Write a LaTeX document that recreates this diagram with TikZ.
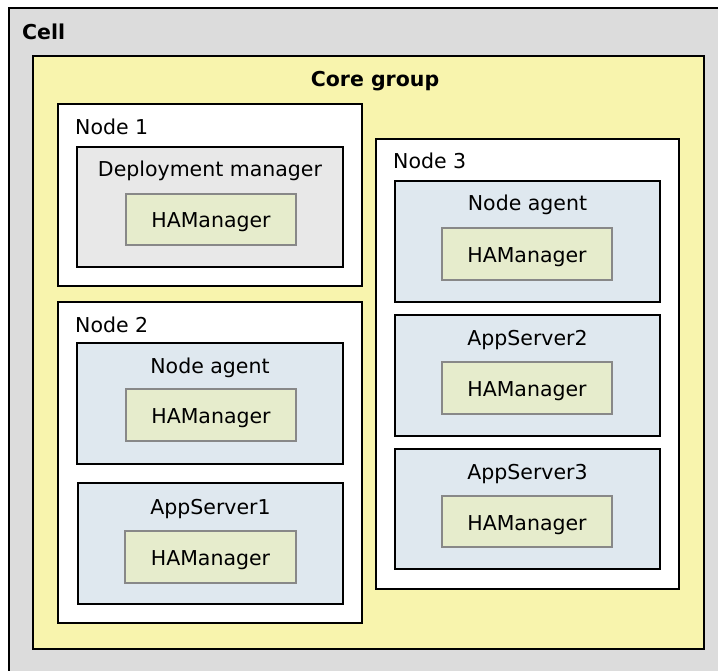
\documentclass[tikz,border=0pt]{standalone}
\usepackage{fontspec}
\setmainfont{DejaVu Sans}
\definecolor{cellgray}{HTML}{DCDCDC}
\definecolor{coreyellow}{HTML}{F8F4AD}
\definecolor{dmgray}{HTML}{E8E8E8}
\definecolor{agentblue}{HTML}{DFE8EF}
\definecolor{hagreen}{HTML}{E6ECCC}
\definecolor{haborder}{HTML}{888888}
\tikzset{
  box/.style={draw=black, line width=2pt, inner sep=0pt, outer sep=0pt},
  cellbox/.style={box, fill=cellgray},
  corebox/.style={box, fill=coreyellow},
  nodebox/.style={box, fill=white},
  dmbox/.style={box, line width=1.8pt, fill=dmgray},
  agentbox/.style={box, line width=1.8pt, fill=agentblue},
  habox/.style={draw=haborder, line width=1.8pt, fill=hagreen, inner sep=0pt, outer sep=0pt},
  lbl/.style={font=\fontsize{20.5pt}{24pt}\selectfont, inner sep=0pt, anchor=base},
  lblw/.style={lbl, anchor=base west},
  boldlbl/.style={lbl, font=\fontsize{20.5pt}{24pt}\selectfont\bfseries},
}
\begin{document}
\begin{tikzpicture}[x=1pt,y=-1pt]
\useasboundingbox (0,0) rectangle (718,671);
\clip (0,0) rectangle (718,671);
% Cell
\node[cellbox, minimum width=760pt, minimum height=720pt] (cell) at (389,368) {};
\node[boldlbl, anchor=base west] (celllbl) at (22,40) {Cell};
% Core group
\node[corebox, minimum width=671pt, minimum height=593pt] (core) at (368.5,352.5) {};
\node[boldlbl] (corelbl) at (375,87) {Core group};
% Node 1
\node[nodebox, minimum width=304pt, minimum height=182pt] (n1) at (210,195) {};
\node[lblw] (n1lbl) at (75,135) {Node 1};
\node[dmbox, minimum width=266pt, minimum height=120pt] (dm) at (210,207) {};
\node[lbl] (dmlbl) at (210,177) {Deployment manager};
\node[habox, minimum width=170pt, minimum height=51pt] (h1) at (211,219.5) {};
\node[lbl] (h1lbl) at (211,228) {HAManager};
% Node 2
\node[nodebox, minimum width=304pt, minimum height=321pt] (n2) at (210,462.5) {};
\node[lblw] (n2lbl) at (75,333) {Node 2};
\node[agentbox, minimum width=266pt, minimum height=121pt] (na2) at (210,403.5) {};
\node[lbl] (na2lbl) at (210,373) {Node agent};
\node[habox, minimum width=170pt, minimum height=52pt] (h2) at (211,415) {};
\node[lbl] (h2lbl) at (211,423) {HAManager};
\node[agentbox, minimum width=265pt, minimum height=121pt] (as1) at (210.5,543.5) {};
\node[lbl] (as1lbl) at (210.5,514) {AppServer1};
\node[habox, minimum width=171pt, minimum height=52pt] (h3) at (210.5,557) {};
\node[lbl] (h3lbl) at (210.5,565) {HAManager};
% Node 3
\node[nodebox, minimum width=303pt, minimum height=450pt] (n3) at (527.5,364) {};
\node[lblw] (n3lbl) at (393,169) {Node 3};
\node[agentbox, minimum width=265pt, minimum height=121pt] (na3) at (527.5,241.5) {};
\node[lbl] (na3lbl) at (527.5,211) {Node agent};
\node[habox, minimum width=170pt, minimum height=52pt] (h4) at (527,254) {};
\node[lbl] (h4lbl) at (527,262.5) {HAManager};
\node[agentbox, minimum width=265pt, minimum height=121pt] (as2) at (527.5,375.5) {};
\node[lbl] (as2lbl) at (527.5,345) {AppServer2};
\node[habox, minimum width=170pt, minimum height=52pt] (h5) at (527,388) {};
\node[lbl] (h5lbl) at (527,396.5) {HAManager};
\node[agentbox, minimum width=265pt, minimum height=120pt] (as3) at (527.5,509) {};
\node[lbl] (as3lbl) at (527.5,479) {AppServer3};
\node[habox, minimum width=170pt, minimum height=51pt] (h6) at (527,521.5) {};
\node[lbl] (h6lbl) at (527,530) {HAManager};
\end{tikzpicture}
\end{document}
